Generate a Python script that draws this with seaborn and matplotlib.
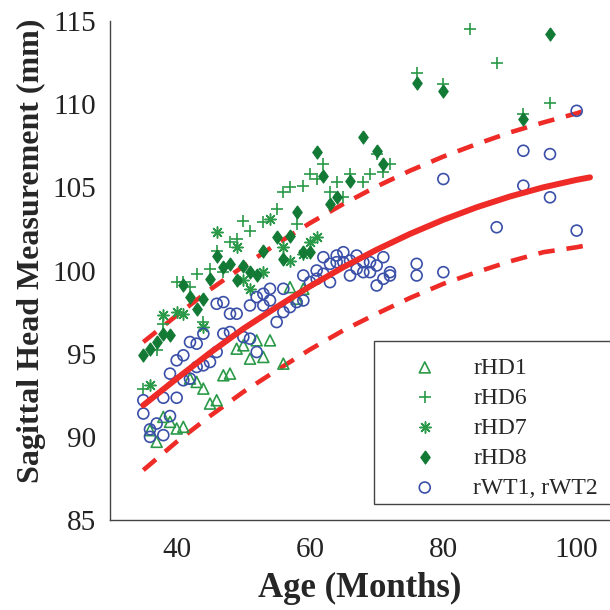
import matplotlib
matplotlib.use("Agg")
import matplotlib.pyplot as plt
import seaborn as sns

# ---------------- data ----------------
rhd1_age = [57, 59, 58, 52, 54, 49, 50, 51, 53, 56, 47, 48, 42, 43, 44, 46, 45, 38, 39, 40, 41, 36, 37]
rhd1_val = [99.0, 98.9, 98.3, 95.8, 95.8, 95.3, 95.5, 94.7, 94.8, 94.4, 93.7, 93.8, 93.5, 93.3, 92.9,
            92.2, 92.0, 91.2, 90.9, 90.5, 90.6, 90.4, 89.7]

rhd6_age = [60, 61, 59, 57, 56, 55, 50, 51, 53, 58, 49, 48, 46, 45, 43, 40, 41, 42, 47, 62, 64, 66, 68,
            69, 71, 72, 63, 65, 70, 44, 38, 37, 35, 88, 96, 92, 76, 80, 84]
rhd6_val = [105.8, 105.5, 105.1, 105.0, 104.7, 103.7, 103.0, 102.4, 102.9, 102.8, 101.9, 101.7, 101.2,
            100.1, 99.8, 99.3, 99.3, 99.0, 99.9, 106.4, 105.3, 105.8, 105.3, 105.8, 105.9, 106.4, 104.7,
            104.4, 107.0, 96.9, 96.8, 95.2, 92.9, 112.5, 110.1, 109.4, 111.9, 111.2, 114.5]

rhd7_age = [54, 46, 49, 56, 60, 61, 57, 50, 53, 51, 38, 40, 41, 44, 36, 59]
rhd7_val = [103.1, 102.3, 101.4, 101.4, 101.7, 102.0, 100.6, 99.4, 99.9, 98.9, 97.3, 97.5, 97.4, 96.6,
            93.1, 101.0]

rhd8_age = [61, 58, 55, 57, 53, 56, 59, 60, 46, 47, 48, 50, 51, 52, 49, 45, 41, 42, 44, 43, 39, 38, 37,
            36, 35, 68, 70, 71, 62, 66, 64, 63, 96, 92, 76, 80]
rhd8_val = [107.1, 103.5, 102.0, 102.1, 101.2, 100.7, 101.1, 101.1, 100.9, 100.2, 100.4, 100.3, 99.9,
            99.7, 99.4, 99.5, 99.1, 98.4, 98.3, 97.7, 96.1, 96.2, 95.7, 95.3, 94.9, 108.0, 107.2, 106.4,
            105.7, 105.4, 104.4, 104.0, 114.2, 109.1, 111.3, 110.8]

rwt_age = [100, 92, 96, 92, 96, 88, 100, 80, 76, 76, 80,
           62, 63, 64, 65, 64, 65, 66, 67, 68, 69, 70, 71, 67, 68, 69, 66, 72, 72, 71, 70, 61, 62, 59,
           61, 60, 63, 56, 54, 53, 52, 54, 53, 51, 59, 58, 57, 56, 55, 50, 51, 52,
           46, 47, 48, 49, 44, 47, 48, 42, 43, 41, 40, 45, 44, 43, 46, 41, 42, 38, 40, 35, 35, 39, 37,
           36, 36, 38, 39]
rwt_val = [109.6, 107.2, 107.0, 105.1, 104.4, 102.6, 102.4, 105.5, 100.4, 99.7, 99.9,
           100.8, 100.4, 100.9, 101.1, 100.5, 100.5, 100.6, 100.9, 100.5, 100.5, 100.3, 100.8, 100.1,
           99.9, 99.9, 99.7, 99.9, 99.7, 99.5, 99.1, 100.0, 99.8, 99.7, 99.5, 99.3, 99.3, 98.9, 98.9,
           98.6, 98.4, 98.2, 97.9, 97.9, 98.2, 98.1, 97.8, 97.5, 96.9, 96.0, 95.9, 95.1,
           98.0, 98.1, 97.4, 97.4, 96.2, 96.2, 96.3, 95.7, 95.6, 94.9, 94.6, 94.5, 94.3, 94.2, 95.1,
           93.4, 93.5, 92.35, 92.35, 92.2, 91.4, 91.25, 90.8, 90.45, 90.0, 90.1, 93.8]

fit_age = [35, 40, 45, 50, 55, 60, 65, 70, 75, 80, 85, 90, 95, 100, 102]
fit_mid = [91.9, 93.5, 95.05, 96.5, 97.8, 99.05, 100.2, 101.25, 102.2, 103.05, 103.8, 104.45, 105.0, 105.45, 105.6]
fit_up = [95.7, 97.3, 98.85, 100.25, 101.6, 102.85, 104.0, 105.05, 106.0, 106.85, 107.6, 108.3, 108.9, 109.45, 109.7]
fit_lo = [88.0, 89.7, 91.25, 92.7, 94.0, 95.25, 96.4, 97.4, 98.35, 99.2, 99.9, 100.55, 101.1, 101.4, 101.55]

x_ticks = [40, 60, 80, 100]
y_ticks = [85, 90, 95, 100, 105, 110, 115]

# ---------------- style ----------------
sns.set_style("white")
plt.rcParams["font.family"] = ["Liberation Serif", "DejaVu Serif"]

GREEN = "#2a9a48"
DGREEN = "#127a35"
BLUE = "#3a4fa8"
RED = "#ee2b27"
DIAMOND = [(0, 1), (0.72, 0), (0, -1), (-0.72, 0), (0, 1)]

fig = plt.figure(figsize=(6.1, 6.1), dpi=100)
ax = fig.add_axes([110 / 610, 90 / 610, 500 / 610, 499 / 610])

# fit curves (prediction bounds dashed)
sns.lineplot(x=fit_age, y=fit_lo, ax=ax, color=RED, lw=3.3, zorder=1)
ax.lines[-1].set_dashes((3.6, 2.6))
sns.lineplot(x=fit_age, y=fit_up, ax=ax, color=RED, lw=3.3, zorder=1)
ax.lines[-1].set_dashes((3.6, 2.6))

# points
sns.scatterplot(x=rhd1_age, y=rhd1_val, ax=ax, marker="^", s=62, facecolor="none",
                edgecolor=GREEN, linewidth=1.2, label="rHD1", zorder=3)
sns.scatterplot(x=rhd6_age, y=rhd6_val, ax=ax, marker="+", s=85, color=GREEN,
                linewidth=1.2, label="rHD6", zorder=3)
sns.scatterplot(x=rhd7_age, y=rhd7_val, ax=ax, marker=(8, 2, 0), s=65, color=GREEN,
                linewidth=1.1, label="rHD7", zorder=3)
sns.scatterplot(x=rhd8_age, y=rhd8_val, ax=ax, marker=DIAMOND, s=90, color=DGREEN,
                edgecolor=DGREEN, linewidth=0.8, label="rHD8", zorder=3)
sns.scatterplot(x=rwt_age, y=rwt_val, ax=ax, marker="o", s=62, facecolor="none",
                edgecolor=BLUE, linewidth=1.2, label="rWT1, rWT2", zorder=3)

sns.lineplot(x=fit_age, y=fit_mid, ax=ax, color=RED, lw=4.3, zorder=4)

ax.set_xlim(30, 105)
ax.set_ylim(85, 115)
ax.set_xticks(x_ticks)
ax.set_yticks(y_ticks)
ax.tick_params(direction="in", length=5, width=1, labelsize=21, colors="#222222")
ax.tick_params(axis="x", pad=12)
ax.tick_params(axis="y", pad=10)
for s in ["top", "right"]:
    ax.spines[s].set_visible(False)
for s in ["left", "bottom"]:
    ax.spines[s].set_color("#444444")
    ax.spines[s].set_linewidth(1.0)

ax.set_xlabel("Age (Months)", fontsize=25, fontweight="bold", labelpad=7)
ax.set_ylabel("Sagittal Head Measurement (mm)", fontsize=23, fontweight="bold")
ax.yaxis.set_label_coords(-0.128, 0.54)

leg = ax.legend(loc="lower left", bbox_to_anchor=(0.528, 0.019), fontsize=17, frameon=False,
                borderpad=0.5, handlelength=3.3, handletextpad=0.4, labelspacing=0.36,
                borderaxespad=0)
# legend frame: open on the right, it runs off the edge of the figure as in the original
ax.plot([1.0, 0.528, 0.528, 1.0], [0.3585, 0.3585, 0.0315, 0.0315], transform=ax.transAxes,
        color="#444444", lw=1.0, clip_on=False, zorder=5, solid_joinstyle="miter")

fig.savefig("out.png", dpi=100)
